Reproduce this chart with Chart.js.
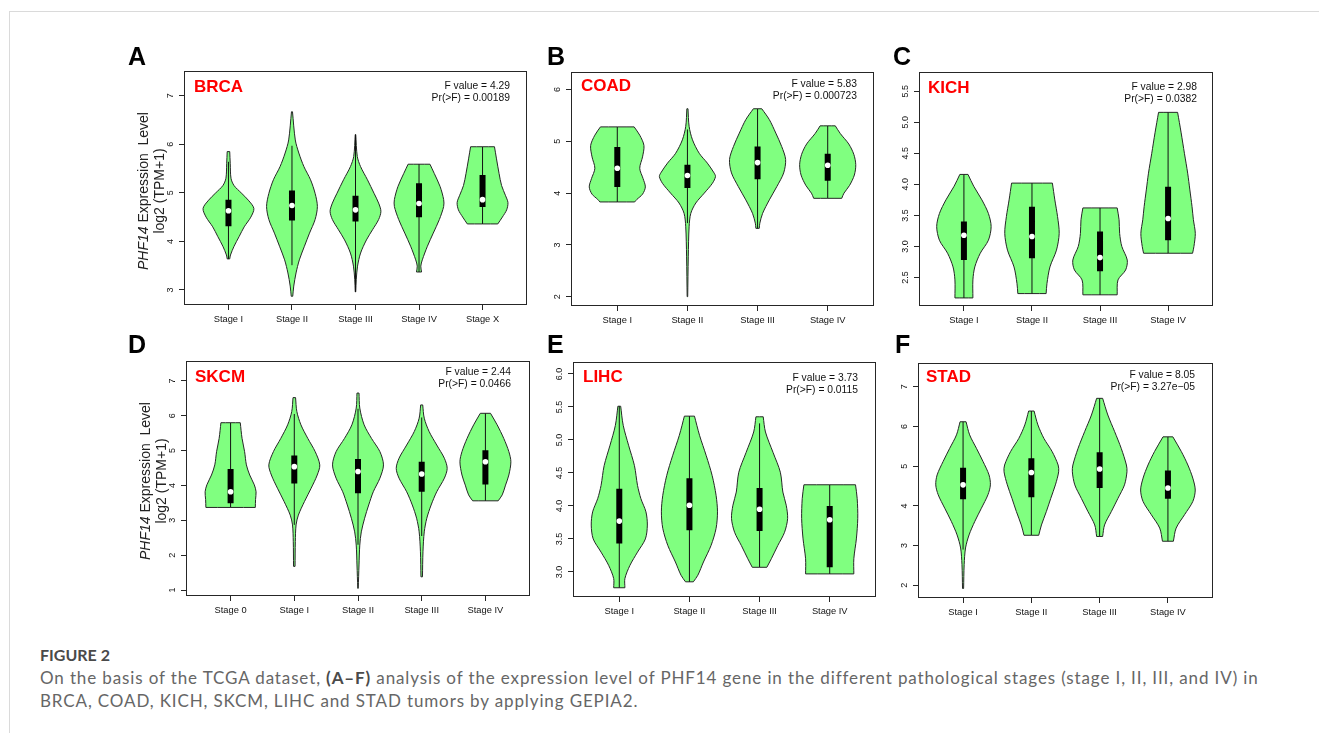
<!DOCTYPE html>
<html><head><meta charset="utf-8">
<script src="https://cdn.jsdelivr.net/npm/chart.js@4/dist/chart.umd.min.js"></script>
<style>
html,body{margin:0;padding:0;background:#fff;}
body{width:1319px;height:733px;overflow:hidden;position:relative;font-family:"Liberation Sans",Arial,sans-serif;}
.frame{position:absolute;left:9px;top:11px;width:1320px;height:730px;border-top:1px solid #dadada;border-left:1px solid #dadada;}
canvas{position:absolute;}
.t{position:absolute;white-space:nowrap;}
.letter{font-weight:bold;font-size:25px;line-height:25px;color:#000;}
.ptitle{font-weight:bold;font-size:17px;line-height:18px;color:#ff0000;}
.stat{font-size:10.3px;line-height:12.8px;color:#111;text-align:right;}
.ytitle{width:220px;height:32px;font-size:14px;line-height:16px;color:#222;text-align:center;transform:rotate(-90deg);transform-origin:50% 50%;}
.caption{position:absolute;left:40px;top:643px;font-family:Lato,"Open Sans",sans-serif;font-size:17px;line-height:23px;color:#666;white-space:nowrap;}
.caption .fig{font-weight:700;color:#4a4a4a;font-size:16px;}
.caption b{color:#4a4a4a;}
.caption .ln{display:inline-block;}
</style>
</head><body>
<div class="frame"></div>
<script>
// ---------------- DATA ----------------
const panelLetters = ['A','B','C','D','E','F'];
const cancerTypes = ['BRCA','COAD','KICH','SKCM','LIHC','STAD'];
const fValues = ['4.29','5.83','2.98','2.44','3.73','8.05'];
const pValues = ['0.00189','0.000723','0.0382','0.0466','0.0115','3.27e\u221205'];

// BRCA
const brcaStages = ['Stage I','Stage II','Stage III','Stage IV','Stage X'];
const brcaYTicks = ['3','4','5','6','7'];
const brcaYRange = [2.69, 7.51];
// [lower whisker, Q1, median, Q3, upper whisker]
const brcaBoxes = [[3.64,4.31,4.63,4.86,5.64],[3.51,4.43,4.74,5.05,5.97],[2.96,4.41,4.65,4.94,6.2],[3.37,4.5,4.78,5.2,5.59],[4.36,4.71,4.86,5.37,5.95]];
// violin outline: [expression value, relative density width]
const brcaViolins = [
  [[5.85,0.05],[5.6,0.07],[5.3,0.1],[5.15,0.22],[5.0,0.5],[4.85,0.78],[4.68,1.0],[4.5,0.88],[4.3,0.62],[4.1,0.42],[3.9,0.22],[3.72,0.08],[3.64,0.05]],
  [[6.67,0.02],[6.09,0.13],[5.82,0.27],[5.54,0.47],[5.27,0.73],[4.99,0.91],[4.72,1.0],[4.45,0.91],[4.17,0.69],[3.9,0.49],[3.62,0.29],[3.35,0.16],[3.08,0.07],[2.87,0.03]],
  [[6.2,0.01],[5.75,0.07],[5.54,0.2],[5.27,0.47],[4.99,0.73],[4.79,0.91],[4.62,1.0],[4.45,0.91],[4.24,0.67],[4.03,0.43],[3.76,0.2],[3.49,0.08],[3.21,0.03],[2.96,0.01]],
  [[5.59,0.43],[5.4,0.6],[5.13,0.83],[4.86,0.97],[4.72,0.97],[4.45,0.8],[4.17,0.56],[3.9,0.33],[3.62,0.13],[3.49,0.07],[3.37,0.1]],
  [[5.95,0.47],[5.7,0.55],[5.4,0.65],[5.15,0.75],[4.95,0.9],[4.8,1.0],[4.65,0.95],[4.5,0.78],[4.36,0.6]]
];

// COAD
const coadStages = ['Stage I','Stage II','Stage III','Stage IV'];
const coadYTicks = ['2','3','4','5','6'];
const coadYRange = [1.82, 6.34];
const coadBoxes = [[3.83,4.12,4.48,4.89,5.28],[3.42,4.1,4.34,4.55,5.23],[3.32,4.27,4.59,4.9,5.63],[3.9,4.24,4.54,4.76,5.3]];
const coadViolins = [
  [[5.28,0.6],[5.12,0.8],[4.92,0.95],[4.7,0.9],[4.48,0.8],[4.28,0.92],[4.12,1.0],[3.98,0.9],[3.88,0.7],[3.83,0.62]],
  [[5.63,0.02],[5.29,0.06],[5.03,0.18],[4.77,0.42],[4.58,0.71],[4.39,0.95],[4.32,1.0],[4.19,0.89],[4.0,0.6],[3.81,0.3],[3.61,0.12],[3.35,0.06],[2.77,0.03],[2.0,0.01]],
  [[5.63,0.15],[5.42,0.42],[5.16,0.65],[4.9,0.86],[4.65,1.0],[4.39,0.93],[4.13,0.69],[3.87,0.42],[3.61,0.18],[3.42,0.08],[3.32,0.06]],
  [[5.3,0.27],[5.15,0.45],[4.95,0.75],[4.75,0.93],[4.55,1.0],[4.35,0.95],[4.15,0.78],[4.0,0.58],[3.9,0.5]]
];

// KICH
const kichStages = ['Stage I','Stage II','Stage III','Stage IV'];
const kichYTicks = ['2.5','3.0','3.5','4.0','4.5','5.0','5.5'];
const kichYRange = [2.04, 5.81];
const kichBoxes = [[2.17,2.78,3.18,3.4,4.16],[2.24,2.81,3.16,3.64,4.02],[2.22,2.6,2.82,3.24,3.62],[2.89,3.1,3.45,3.96,5.16]];
const kichViolins = [
  [[4.16,0.15],[3.97,0.36],[3.75,0.66],[3.53,0.9],[3.32,1.0],[3.1,0.9],[2.89,0.6],[2.67,0.4],[2.46,0.33],[2.17,0.33]],
  [[4.02,0.75],[3.75,0.84],[3.48,0.94],[3.21,1.0],[2.94,0.9],[2.67,0.66],[2.4,0.55],[2.24,0.52]],
  [[3.62,0.63],[3.43,0.7],[3.21,0.72],[3.0,0.8],[2.78,1.0],[2.62,0.94],[2.46,0.66],[2.22,0.63]],
  [[5.16,0.35],[4.83,0.48],[4.5,0.6],[4.18,0.72],[3.91,0.8],[3.64,0.88],[3.43,0.93],[3.21,1.0],[3.0,0.95],[2.89,0.9]]
];

// SKCM
const skcmStages = ['Stage 0','Stage I','Stage II','Stage III','Stage IV'];
const skcmYTicks = ['1','2','3','4','5','6','7'];
const skcmYRange = [0.83, 7.57];
const skcmBoxes = [[3.37,3.49,3.82,4.47,5.8],[2.87,4.06,4.54,4.86,6.05],[2.3,3.78,4.4,4.76,6.2],[2.55,3.82,4.33,4.68,5.95],[3.56,4.03,4.68,5.01,6.07]];
const skcmViolins = [
  [[5.8,0.38],[5.35,0.45],[4.97,0.55],[4.59,0.62],[4.3,0.75],[4.02,0.93],[3.82,1.0],[3.6,0.98],[3.37,0.97]],
  [[6.52,0.05],[6.12,0.1],[5.74,0.26],[5.35,0.53],[4.97,0.82],[4.59,1.0],[4.3,0.9],[3.92,0.66],[3.54,0.4],[3.15,0.16],[2.87,0.07],[2.39,0.04],[1.68,0.03]],
  [[6.65,0.04],[6.22,0.07],[5.74,0.24],[5.35,0.53],[4.97,0.86],[4.59,1.0],[4.21,0.86],[3.82,0.6],[3.44,0.42],[3.06,0.26],[2.67,0.13],[2.29,0.07],[1.72,0.04],[1.05,0.01]],
  [[6.31,0.04],[5.93,0.1],[5.55,0.29],[5.16,0.59],[4.78,0.89],[4.49,1.0],[4.21,0.89],[3.82,0.59],[3.44,0.37],[3.06,0.2],[2.67,0.1],[2.1,0.05],[1.38,0.03]],
  [[6.07,0.2],[5.74,0.46],[5.35,0.72],[4.97,0.92],[4.68,1.0],[4.3,0.92],[4.01,0.79],[3.73,0.66],[3.56,0.5]]
];

// LIHC
const lihcStages = ['Stage I','Stage II','Stage III','Stage IV'];
const lihcYTicks = ['3.0','3.5','4.0','4.5','5.0','5.5','6.0'];
const lihcYRange = [2.62, 6.18];
const lihcBoxes = [[2.76,3.43,3.77,4.26,5.51],[2.85,3.63,4.01,4.42,5.36],[3.07,3.62,3.95,4.27,5.25],[2.97,3.07,3.79,4.0,4.32]];
const lihcViolins = [
  [[5.51,0.05],[5.22,0.14],[4.92,0.33],[4.61,0.54],[4.31,0.65],[4.11,0.77],[3.91,0.95],[3.71,1.0],[3.5,0.93],[3.3,0.65],[3.1,0.38],[2.9,0.2],[2.76,0.2]],
  [[5.36,0.18],[5.07,0.36],[4.76,0.6],[4.46,0.81],[4.16,0.95],[3.91,1.0],[3.66,0.95],[3.4,0.77],[3.15,0.5],[2.95,0.3],[2.85,0.14]],
  [[5.35,0.13],[5.12,0.21],[4.81,0.48],[4.51,0.74],[4.21,0.83],[4.01,0.95],[3.81,1.0],[3.6,0.89],[3.4,0.65],[3.2,0.42],[3.07,0.26]],
  [[4.32,0.92],[4.11,0.98],[3.81,1.0],[3.5,0.95],[3.2,0.86],[2.97,0.86]]
];

// STAD
const stadStages = ['Stage I','Stage II','Stage III','Stage IV'];
const stadYTicks = ['2','3','4','5','6','7'];
const stadYRange = [1.68, 7.6];
const stadBoxes = [[2.9,4.17,4.53,4.96,6.12],[3.26,4.22,4.84,5.2,6.39],[3.23,4.45,4.93,5.35,6.71],[3.11,4.18,4.45,4.89,5.74]];
const stadViolins = [
  [[6.12,0.11],[5.79,0.24],[5.45,0.49],[5.12,0.73],[4.78,0.95],[4.53,1.0],[4.28,0.91],[3.94,0.67],[3.61,0.43],[3.27,0.22],[2.94,0.09],[2.52,0.04],[1.92,0.02]],
  [[6.39,0.1],[6.04,0.24],[5.7,0.46],[5.37,0.76],[5.03,0.98],[4.86,1.0],[4.53,0.88],[4.19,0.71],[3.86,0.55],[3.52,0.37],[3.26,0.27]],
  [[6.71,0.11],[6.29,0.3],[5.87,0.55],[5.45,0.79],[5.03,0.98],[4.86,1.0],[4.53,0.91],[4.19,0.67],[3.86,0.43],[3.52,0.18],[3.23,0.11]],
  [[5.74,0.18],[5.37,0.49],[5.03,0.73],[4.7,0.91],[4.4,1.0],[4.11,0.91],[3.78,0.61],[3.44,0.3],[3.11,0.2]]
];

const yAxisTitle = ['PHF14', ' Expression\u00a0 Level', 'log2 (TPM+1)'];
const captionHead = 'FIGURE 2';
const captionText = ['On the basis of the TCGA dataset, ', '(A\u2013F)', ' analysis of the expression level of PHF14 gene in the different pathological stages (stage I, II, III, and IV) in', 'BRCA, COAD, KICH, SKCM, LIHC and STAD tumors by applying GEPIA2.'];

// ---------------- LAYOUT / STYLE ----------------
const GREEN = '#80ff80', OUTLINE = '#262626', INK = '#111';
const HALF = 0.4; // max half-width of a violin in category units
const CAPTION_LINE_WIDTH = 1218;
const layout = [
  {box:[184,71,527,305], title:[194,87], stat:[510,86], letter:[128,47], ytitle:[151,191], tickPad:5.5},
  {box:[571,72,874,306], title:[581,86], stat:[857,84], letter:[547,47], tickPad:5.5},
  {box:[919,72,1213,306], title:[928,88], stat:[1197,87], letter:[893,47], tickPad:2.5},
  {box:[186,361,530,596], title:[195,377], stat:[511,372], letter:[128,335], ytitle:[153,481], tickPad:5.5},
  {box:[573,362,876,597], title:[583,377], stat:[858,378], letter:[547,335], tickPad:2.5},
  {box:[918,363,1213,598], title:[926,377], stat:[1195,375], letter:[895,335], tickPad:5.5}
];
const panelData = [
  {stages:brcaStages, yTicks:brcaYTicks, yRange:brcaYRange, boxes:brcaBoxes, violins:brcaViolins},
  {stages:coadStages, yTicks:coadYTicks, yRange:coadYRange, boxes:coadBoxes, violins:coadViolins},
  {stages:kichStages, yTicks:kichYTicks, yRange:kichYRange, boxes:kichBoxes, violins:kichViolins},
  {stages:skcmStages, yTicks:skcmYTicks, yRange:skcmYRange, boxes:skcmBoxes, violins:skcmViolins},
  {stages:lihcStages, yTicks:lihcYTicks, yRange:lihcYRange, boxes:lihcBoxes, violins:lihcViolins},
  {stages:stadStages, yTicks:stadYTicks, yRange:stadYRange, boxes:stadBoxes, violins:stadViolins}
];

function violinPath(c, prof) {
  const right = prof.map(([y, w]) => ({x: c + w * HALF, y}));
  const left = prof.map(([y, w]) => ({x: c - w * HALF, y})).reverse();
  const cp = p => ({x: p.x, y: p.y});
  const pts = [cp(right[0])];
  right.forEach(p => pts.push(cp(p)));
  pts.push(cp(right[right.length - 1]));
  pts.push(cp(left[0]));
  left.forEach(p => pts.push(cp(p)));
  pts.push(cp(left[left.length - 1]));
  pts.push(cp(right[0]), cp(right[0]));
  return pts;
}

const framePlugin = {
  id: 'frame',
  afterDraw(chart) {
    const a = chart.chartArea, ctx = chart.ctx;
    ctx.save();
    ctx.strokeStyle = OUTLINE; ctx.lineWidth = 1;
    ctx.strokeRect(Math.round(a.left) + 0.5, Math.round(a.top) + 0.5, Math.round(a.right - a.left) - 1, Math.round(a.bottom - a.top) - 1);
    ctx.restore();
  }
};

function addText(cls, html, style) {
  const d = document.createElement('div');
  d.className = 't ' + cls;
  d.innerHTML = html;
  Object.assign(d.style, style);
  document.body.appendChild(d);
  return d;
}

panelData.forEach((p, k) => {
  const g = layout[k];
  const [L, T, R, B] = g.box;
  const padTop = 14, yW = 45, xH = 30, padR = 5;
  const w = R - L + yW + padR, h = B - T + padTop + xH;
  const cv = document.createElement('canvas');
  cv.width = w; cv.height = h;
  cv.style.left = (L - yW) + 'px'; cv.style.top = (T - padTop) + 'px';
  cv.style.width = w + 'px'; cv.style.height = h + 'px';
  document.body.appendChild(cv);

  const n = p.stages.length;
  const datasets = [];
  p.violins.forEach((prof, i) => {
    datasets.push({data: violinPath(i + 1, prof), showLine: true, fill: 'shape',
      backgroundColor: GREEN, borderColor: OUTLINE, borderWidth: 1, pointRadius: 0,
      tension: 0.3, order: 4});
  });
  const whisk = [], bx = [], med = [];
  p.boxes.forEach(([lo, q1, m, q3, hi], i) => {
    const c = i + 1;
    whisk.push({x: c, y: lo}, {x: c, y: hi}, {x: c, y: null});
    bx.push({x: c, y: q1}, {x: c, y: q3}, {x: c, y: null});
    med.push({x: c, y: m});
  });
  datasets.push({data: whisk, showLine: true, spanGaps: false, borderColor: INK, borderWidth: 1, pointRadius: 0, order: 3});
  datasets.push({data: bx, showLine: true, spanGaps: false, borderColor: '#000', borderWidth: 6, borderCapStyle: 'butt', pointRadius: 0, order: 2});
  datasets.push({data: med, showLine: false, pointRadius: 2.8, pointBackgroundColor: '#fff', pointBorderColor: '#fff', pointBorderWidth: 0, order: 1});

  const yVals = p.yTicks.map(Number);
  new Chart(cv, {
    type: 'scatter',
    data: {datasets},
    plugins: [framePlugin],
    options: {
      responsive: false, animation: false, devicePixelRatio: 1, events: [],
      layout: {padding: {left: 0, top: padTop, right: padR, bottom: 0}},
      plugins: {legend: {display: false}, tooltip: {enabled: false}},
      scales: {
        x: {
          type: 'linear', position: 'bottom',
          min: 0.5 - 0.04 * n, max: n + 0.5 + 0.04 * n,
          afterBuildTicks: s => { s.ticks = p.stages.map((_, i) => ({value: i + 1})); },
          afterFit: s => { s.height = xH; },
          ticks: {callback: v => p.stages[Math.round(v) - 1] || '', autoSkip: false, maxRotation: 0, minRotation: 0,
                  font: {family: '"Liberation Sans", Arial', size: 9.3}, color: INK, padding: 4},
          grid: {display: true, drawOnChartArea: false, drawTicks: true, tickLength: 5, color: OUTLINE, lineWidth: 1},
          border: {display: false}
        },
        y: {
          type: 'linear', position: 'left',
          min: p.yRange[0], max: p.yRange[1],
          afterBuildTicks: s => { s.ticks = yVals.map(v => ({value: v})); },
          afterFit: s => { s.width = yW; },
          ticks: {callback: (v, i) => p.yTicks[i], autoSkip: false, minRotation: 90, maxRotation: 90, crossAlign: 'center',
                  font: {family: '"Liberation Sans", Arial', size: 9}, color: INK, padding: g.tickPad},
          grid: {display: true, drawOnChartArea: false, drawTicks: true, tickLength: 5, color: OUTLINE, lineWidth: 1},
          border: {display: false}
        }
      }
    }
  });

  // texts
  addText('letter', panelLetters[k], {left: g.letter[0] + 'px', top: (g.letter[1] - 3.5) + 'px'});
  addText('ptitle', cancerTypes[k], {left: g.title[0] + 'px', top: (g.title[1] - 9) + 'px'});
  addText('stat', 'F value = ' + fValues[k] + '<br>Pr(&gt;F) = ' + pValues[k],
    {right: (1319 - g.stat[0]) + 'px', top: (g.stat[1] - 6.4) + 'px'});
  if (g.ytitle) {
    addText('ytitle', '<div><i>' + yAxisTitle[0] + '</i>' + yAxisTitle[1] + '</div><div>' + yAxisTitle[2] + '</div>',
      {left: (g.ytitle[0] - 110) + 'px', top: (g.ytitle[1] - 16) + 'px'});
  }
});

const cap = document.createElement('div');
cap.className = 'caption';
cap.innerHTML = '<span class="fig">' + captionHead + '</span><br><span class="ln" id="ln1">' + captionText[0] + '<b>' + captionText[1] + '</b>' + captionText[2] + '</span><br><span class="ln" id="ln2">' + captionText[3] + '</span>';
document.body.appendChild(cap);
// stretch tracking so the first body line spans the same width as in the figure
const ln1 = document.getElementById('ln1'), ln2 = document.getElementById('ln2');
const nChars = ln1.textContent.length;
const extra = (CAPTION_LINE_WIDTH - ln1.getBoundingClientRect().width) / nChars;
if (extra > 0 && extra < 3) { ln1.style.letterSpacing = extra + 'px'; ln2.style.letterSpacing = extra + 'px'; }
</script>
</body></html>
